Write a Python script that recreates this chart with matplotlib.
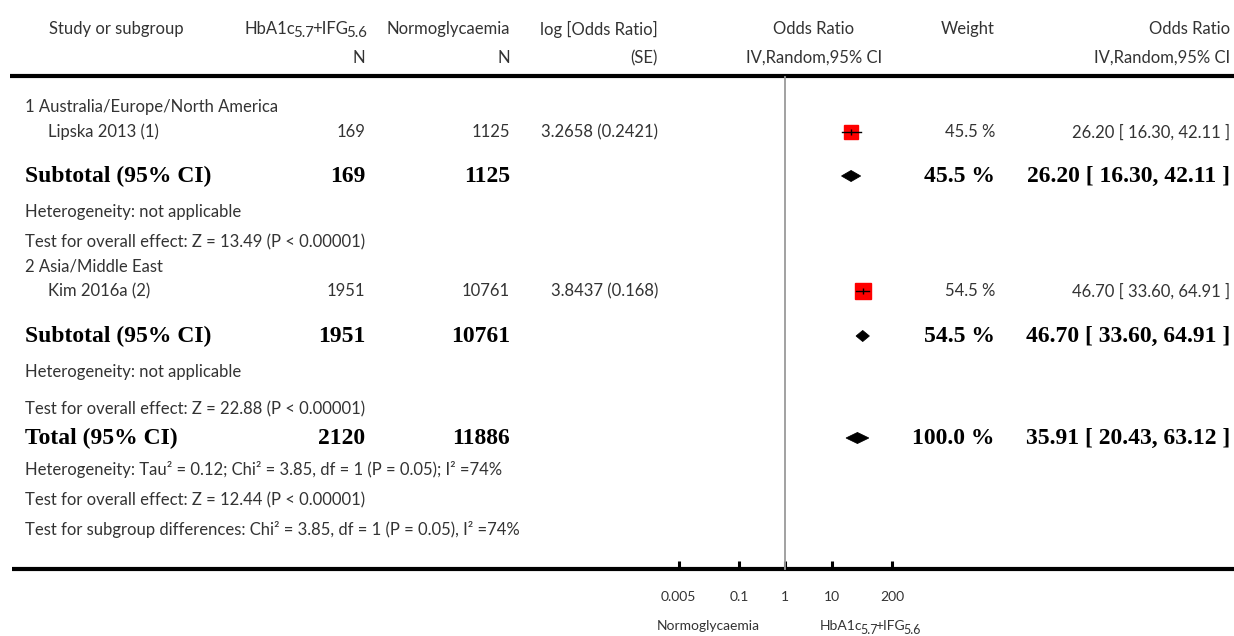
import matplotlib
matplotlib.use("Agg")
import matplotlib.pyplot as plt
from matplotlib.patches import Polygon
from matplotlib.ticker import NullLocator

# ---- data -------------------------------------------------------------
subgroups = ["1 Australia/Europe/North America", "2 Asia/Middle East"]
studies = ["Lipska 2013 (1)", "Kim 2016a (2)"]
n_hba1c = [169, 1951]
n_normo = [1125, 10761]
log_or = ["3.2658", "3.8437"]
log_se = ["0.2421", "0.168"]
weights = [45.5, 54.5]
or_est = [26.20, 46.70]
or_lo = [16.30, 33.60]
or_hi = [42.11, 64.91]

# subgroup pooled results (one study each)
sub_n_hba1c = [169, 1951]
sub_n_normo = [1125, 10761]
sub_weights = [45.5, 54.5]
sub_est = [26.20, 46.70]
sub_lo = [16.30, 33.60]
sub_hi = [42.11, 64.91]
sub_het = ["Heterogeneity: not applicable", "Heterogeneity: not applicable"]
sub_test = ["Test for overall effect: Z = 13.49 (P < 0.00001)",
            "Test for overall effect: Z = 22.88 (P < 0.00001)"]

total_n_hba1c = 2120
total_n_normo = 11886
total_weight = 100.0
total_est = 35.91
total_lo = 20.43
total_hi = 63.12
total_notes = [
    "Heterogeneity: Tau\u00b2 = 0.12; Chi\u00b2 = 3.85, df = 1 (P = 0.05); I\u00b2 =74%",
    "Test for overall effect: Z = 12.44 (P < 0.00001)",
    "Test for subgroup differences: Chi\u00b2 = 3.85, df = 1 (P = 0.05), I\u00b2 =74%",
]

axis_ticks = [0.005, 0.1, 1, 10, 200]
axis_ticklabels = ["0.005", "0.1", "1", "10", "200"]
favours_left = "Normoglycaemia"
# exposure group label as (text, is_subscript) pieces
exposure_parts = [("HbA1c", False), ("5.7", True), ("+IFG", False), ("5.6", True)]

# ---- styling ----------------------------------------------------------
plt.rcParams["font.family"] = ["Lato", "DejaVu Sans"]

W, H = 1234, 636
TXT = "#333333"
FS = 12
BFS = 17
SERIF = ["Liberation Serif", "DejaVu Serif"]

fig = plt.figure(figsize=(W / 100, H / 100), dpi=100)
fig.patch.set_facecolor("white")
renderer = fig.canvas.get_renderer()

# overlay in pixel coordinates for the table part
ax = fig.add_axes([0, 0, 1, 1])
ax.set_xlim(0, W)
ax.set_ylim(H, 0)
ax.axis("off")

# forest panel: log odds-ratio scale between the 0.005 and 200 ticks
px0, px1 = 678.7, 892.0
fax = fig.add_axes([px0 / W, 0, (px1 - px0) / W, 1])
fax.set_xscale("log")
fax.set_xlim(0.005, 200)
fax.set_ylim(H, 0)
fax.patch.set_alpha(0)
for s in ["top", "left", "right"]:
    fax.spines[s].set_visible(False)
fax.spines["bottom"].set_position(("data", 569))
fax.spines["bottom"].set_color("none")
fax.set_yticks([])
fax.set_xticks(axis_ticks)
fax.set_xticklabels(axis_ticklabels)
fax.xaxis.set_minor_locator(NullLocator())
fax.tick_params(axis="x", direction="in", length=6, width=2.2, pad=16,
                labelsize=10, labelcolor=TXT)

# column anchors
X_LEFT = 25
X_STUDY = 48
X_N1 = 365
X_N2 = 510
X_LOG = 658
X_OR = 814
X_W = 995
X_CI = 1230


def t(x, y, s, ha="left", bold=False, size=None, **kw):
    if bold:
        return ax.text(x, y, s, ha=ha, va="center", fontsize=size or BFS,
                       family=SERIF, fontweight="bold", color="black", **kw)
    return ax.text(x, y, s, ha=ha, va="center", fontsize=size or FS,
                   color=TXT, **kw)


def rich(x, y, parts, ha="left", size=FS, kern=2.0):
    """Text made of normal and lowered (subscript) pieces."""
    items = []
    for s, sub in parts:
        fs = size * 0.9 if sub else size
        dy = size * 0.36 if sub else 0
        txt = t(0, y + dy, s, size=fs)
        w = txt.get_window_extent(renderer).width - kern
        items.append((txt, w))
    total = sum(w for _, w in items)
    start = {"left": x, "right": x - total, "center": x - total / 2}[ha]
    for txt, w in items:
        txt.set_x(start)
        start += w


def ci_text(est, lo, hi):
    return f"{est:.2f} [ {lo:.2f}, {hi:.2f} ]"


# header
t(49, 29, "Study or subgroup")
rich(X_N1, 29, exposure_parts, ha="right")
t(X_N2, 29, "Normoglycaemia", ha="right")
t(X_LOG, 29, "log [Odds Ratio]", ha="right")
t(X_OR, 29, "Odds Ratio", ha="center")
t(X_W, 29, "Weight", ha="right")
t(X_CI, 29, "Odds Ratio", ha="right")
t(X_N1, 58, "N", ha="right")
t(X_N2, 58, "N", ha="right")
t(X_LOG, 58, "(SE)", ha="right")
t(X_OR, 58, "IV,Random,95% CI", ha="center")
t(X_CI, 58, "IV,Random,95% CI", ha="right")

ax.plot([10, W], [76, 76], color="black", lw=3, solid_capstyle="butt")
ax.plot([12, W], [569, 569], color="black", lw=3, solid_capstyle="butt")

# reference line at OR = 1
fax.plot([1, 1], [77, 569], color="#9a9a9a", lw=1.3, clip_on=False)


def diamond(y, est, lo, hi, half=5.5):
    fax.add_patch(Polygon([(lo, y), (est, y - half), (hi, y), (est, y + half)],
                          closed=True, facecolor="black", edgecolor="black",
                          lw=0.6, clip_on=False))


group_y = [107, 266]
study_y = [132, 291]
sub_y = [176, 336]
het_y = [212, 372]
test_y = [242, 409]

for i in range(2):
    t(X_LEFT, group_y[i], subgroups[i])
    y = study_y[i]
    t(X_STUDY, y, studies[i])
    t(X_N1, y, str(n_hba1c[i]), ha="right")
    t(X_N2, y, str(n_normo[i]), ha="right")
    t(X_LOG, y, f"{log_or[i]} ({log_se[i]})", ha="right")
    t(X_W, y, f"{weights[i]:.1f} %", ha="right")
    t(X_CI, y, ci_text(or_est[i], or_lo[i], or_hi[i]), ha="right")
    ms = 10.8 * (weights[i] / 50) ** 0.25
    fax.plot([or_est[i]], [y], marker="s", ms=ms, color="#ff0000",
             mec="#ff0000", clip_on=False)
    fax.plot([or_lo[i], or_hi[i]], [y, y], color="black", lw=1, clip_on=False)
    fax.plot([or_est[i]], [y], marker="|", ms=4, color="black", mew=1,
             clip_on=False)

    ys = sub_y[i]
    t(X_LEFT, ys, "Subtotal (95% CI)", bold=True)
    t(X_N1, ys, str(sub_n_hba1c[i]), ha="right", bold=True)
    t(X_N2, ys, str(sub_n_normo[i]), ha="right", bold=True)
    t(X_W, ys, f"{sub_weights[i]:.1f} %", ha="right", bold=True)
    t(X_CI, ys, ci_text(sub_est[i], sub_lo[i], sub_hi[i]), ha="right", bold=True)
    diamond(ys, sub_est[i], sub_lo[i], sub_hi[i])
    t(X_LEFT, het_y[i], sub_het[i])
    t(X_LEFT, test_y[i], sub_test[i])

# overall
yt = 438
t(X_LEFT, yt, "Total (95% CI)", bold=True)
t(X_N1, yt, str(total_n_hba1c), ha="right", bold=True)
t(X_N2, yt, str(total_n_normo), ha="right", bold=True)
t(X_W, yt, f"{total_weight:.1f} %", ha="right", bold=True)
t(X_CI, yt, ci_text(total_est, total_lo, total_hi), ha="right", bold=True)
diamond(yt, total_est, total_lo, total_hi)
for y, s in zip([470, 500, 530], total_notes):
    t(X_LEFT, y, s)

# favours labels under the axis
t(708, 626, favours_left, ha="center", size=10)
rich(869, 626, exposure_parts, ha="center", size=10)

fig.savefig("out.png", dpi=100, facecolor="white")
